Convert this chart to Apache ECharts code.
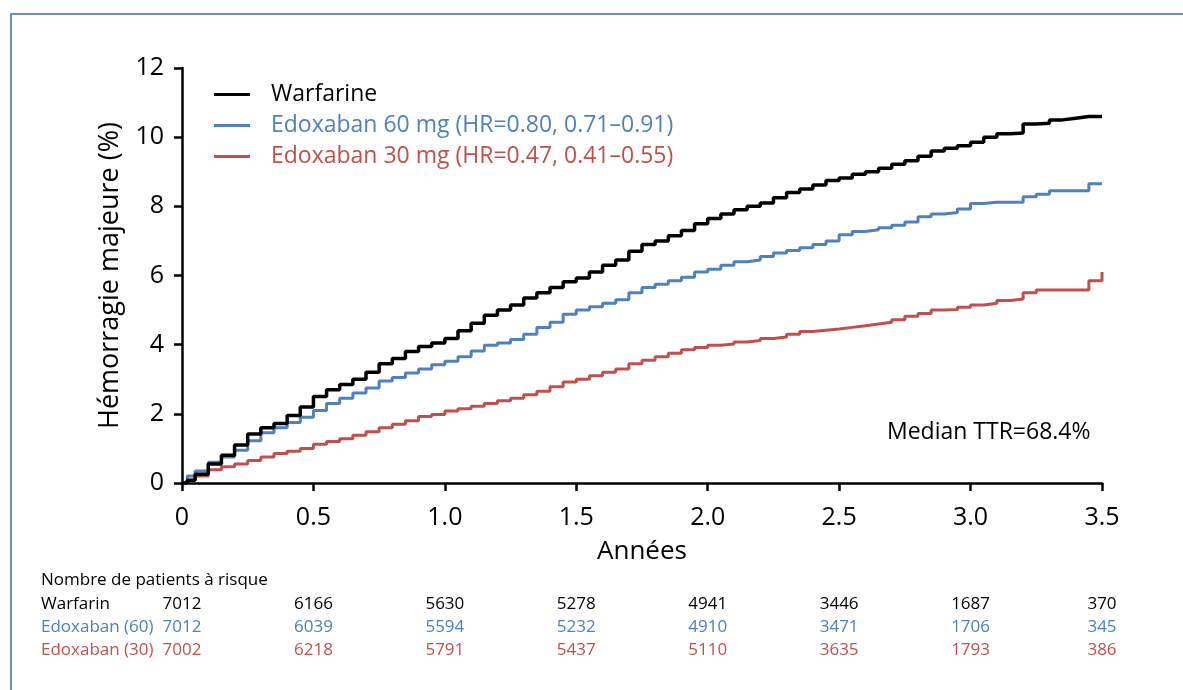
<!DOCTYPE html>
<html><head><meta charset="utf-8">
<script src="https://cdn.jsdelivr.net/npm/echarts@6/dist/echarts.min.js"></script>
<style>html,body{margin:0;padding:0;background:#fff;}#c{width:1183px;height:690px;}</style>
</head><body><div id="c"></div>
<script>
const times = [0,0.02,0.05,0.1,0.15,0.2,0.25,0.3,0.35,0.4,0.45,0.5,0.55,0.6,0.65,0.7,0.75,0.8,0.85,0.9,0.95,
1.0,1.05,1.1,1.15,1.2,1.25,1.3,1.35,1.4,1.45,1.5,1.55,1.6,1.65,1.7,1.75,1.8,1.85,1.9,1.95,
2.0,2.05,2.1,2.15,2.2,2.25,2.3,2.35,2.4,2.45,2.5,2.55,2.6,2.65,2.7,2.75,2.8,2.85,2.9,2.95,
3.0,3.05,3.1,3.15,3.2,3.25,3.3,3.35,3.4,3.45,3.5];
const warfarin = [0,0.08,0.25,0.55,0.8,1.1,1.42,1.6,1.72,1.95,2.2,2.5,2.7,2.85,3.0,3.2,3.45,3.6,3.8,3.95,4.05,
4.18,4.4,4.62,4.85,5.0,5.15,5.35,5.5,5.65,5.82,5.93,6.1,6.3,6.45,6.7,6.9,7.0,7.15,7.3,7.5,
7.65,7.78,7.9,8.0,8.1,8.25,8.4,8.5,8.62,8.75,8.82,8.93,9.0,9.1,9.22,9.32,9.45,9.6,9.68,9.75,
9.85,10.0,10.1,10.12,10.38,10.4,10.5,10.55,10.6,10.6,10.6];
const edox60 = [0,0.2,0.35,0.6,0.75,0.95,1.22,1.45,1.6,1.75,1.9,2.1,2.3,2.45,2.6,2.75,2.95,3.05,3.18,3.3,3.42,
3.52,3.65,3.82,3.98,4.05,4.15,4.3,4.5,4.65,4.88,5.0,5.1,5.2,5.3,5.5,5.65,5.75,5.85,5.95,6.1,
6.18,6.3,6.4,6.45,6.55,6.65,6.72,6.8,6.9,7.0,7.18,7.27,7.32,7.38,7.45,7.55,7.7,7.78,7.82,7.92,
8.08,8.12,8.12,8.12,8.28,8.35,8.45,8.45,8.45,8.65,8.67];
const edox30 = [0,0.08,0.2,0.38,0.47,0.55,0.65,0.75,0.85,0.92,1.0,1.12,1.2,1.28,1.38,1.48,1.6,1.7,1.8,1.92,1.98,
2.08,2.15,2.22,2.3,2.38,2.45,2.55,2.65,2.78,2.92,3.0,3.1,3.2,3.3,3.45,3.55,3.65,3.75,3.85,3.92,
3.98,4.02,4.08,4.12,4.18,4.22,4.3,4.38,4.42,4.45,4.5,4.55,4.6,4.65,4.72,4.82,4.9,5.0,5.02,5.08,
5.15,5.2,5.28,5.32,5.5,5.58,5.58,5.58,5.58,5.85,6.1];

const seriesNames = ['Warfarine','Edoxaban 60 mg (HR=0.80, 0.71\u20130.91)','Edoxaban 30 mg (HR=0.47, 0.41\u20130.55)'];
const riskTimes = [0,0.5,1.0,1.5,2.0,2.5,3.0,3.5];
const riskLabels = ['Warfarin','Edoxaban (60)','Edoxaban (30)'];
const riskWarfarin = [7012,6166,5630,5278,4941,3446,1687,370];
const riskEdox60 = [7012,6039,5594,5232,4910,3471,1706,345];
const riskEdox30 = [7002,6218,5791,5437,5110,3635,1793,386];

const colors = ['#000000','#4f81bd','#c0504d'];
const widths = [3.5,3,3];
const FONT = '"Open Sans", "Noto Sans", sans-serif';

const chart = echarts.init(document.getElementById('c'), null, {renderer:'canvas'});
const pairs = arr => times.map((t,i)=>[t,arr[i]]);
const allData = [warfarin, edox60, edox30];

const axisCommon = {
  axisLine:{show:true, lineStyle:{color:'#000', width:2.5}},
  axisTick:{show:true, length:8, lineStyle:{color:'#000', width:2.5}},
  splitLine:{show:false},
};

chart.setOption({
  animation:false,
  textStyle:{fontFamily:FONT},
  grid:{left:182, right:81, top:68, bottom:207},
  xAxis:Object.assign({
    type:'value', min:0, max:3.5, interval:0.5,
    name:'Années', nameLocation:'middle', nameGap:56,
    nameTextStyle:{fontSize:26, color:'#000', fontFamily:FONT},
    axisLabel:{fontSize:25, color:'#000', margin:22, fontFamily:FONT,
      formatter:v=> v===0 ? '0' : v.toFixed(1)}
  }, axisCommon),
  yAxis:Object.assign({
    type:'value', min:0, max:12, interval:2,
    name:'Hémorragie majeure (%)', nameLocation:'middle', nameGap:58,
    nameTextStyle:{fontSize:27, color:'#000', fontFamily:FONT},
    axisLabel:{fontSize:25, color:'#000', margin:18, fontFamily:FONT}
  }, axisCommon),
  legend:{
    orient:'vertical', left:209, top:78, icon:'rect', itemWidth:36, itemHeight:3, itemGap:8,
    textStyle:{fontSize:23, fontFamily:FONT, padding:[0,0,0,16]},
    data:seriesNames.map((n,i)=>({name:n, textStyle:{color:colors[i]}}))
  },
  series:allData.map((d,i)=>({
    name:seriesNames[i], type:'line', step:'end', showSymbol:false, symbol:'none',
    z: 5-i,
    lineStyle:{color:colors[i], width:widths[i]},
    itemStyle:{color:colors[i]},
    data:pairs(d)
  }))
});

const graphics = [];
graphics.push({type:'rect', shape:{x:11, y:14, width:1300, height:800}, style:{fill:null, stroke:'#3f6c99', lineWidth:1.5}, silent:true});
graphics.push({type:'text', x:887, y:432, style:{text:'Median TTR=68.4%', fontSize:23, fontFamily:FONT, fill:'#000', verticalAlign:'middle'}});
graphics.push({type:'text', x:41, y:580, style:{text:'Nombre de patients à risque', fontSize:17, fontFamily:FONT, fill:'#000', verticalAlign:'middle'}});
const riskRows = [riskWarfarin, riskEdox60, riskEdox30];
const rowY = [604, 627, 650];
riskRows.forEach((row,r)=>{
  graphics.push({type:'text', x:41, y:rowY[r], style:{text:riskLabels[r], fontSize:17, fontFamily:FONT, fill:colors[r], verticalAlign:'middle', align:'left'}});
  row.forEach((v,k)=>{
    const px = chart.convertToPixel({xAxisIndex:0}, riskTimes[k]);
    graphics.push({type:'text', x:px, y:rowY[r], style:{text:String(v), fontSize:17, fontFamily:FONT, fill:colors[r], verticalAlign:'middle', align:'center'}});
  });
});
chart.setOption({graphic:graphics});
</script></body></html>
